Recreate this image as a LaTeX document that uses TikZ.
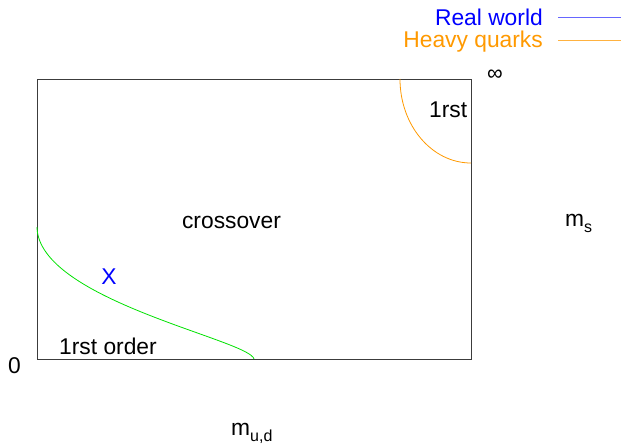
\documentclass[tikz,border=0pt]{standalone}
\usepackage{fontspec}
\setmainfont{Liberation Sans}
\definecolor{boxgray}{RGB}{60,60,60}
\definecolor{realblue}{RGB}{0,0,255}
\definecolor{heavyorange}{RGB}{255,153,0}
\definecolor{curvegreen}{RGB}{0,225,0}
\tikzset{
  lbl/.style={inner sep=0pt, anchor=base, font=\fontsize{22.8}{27}\selectfont},
  lblw/.style={lbl, anchor=base west},
  lble/.style={lbl, anchor=base east},
}
\begin{document}
\begin{tikzpicture}[x=1pt,y=-1pt]
\useasboundingbox (0,0) rectangle (621,445);
% box
\draw[boxgray, line width=0.9pt] (37,79) rectangle (471,359);
% curves
\coordinate (g1) at (37,227);
\coordinate (g2) at (254,359);
\draw[curvegreen, line width=0.8pt] (g1) .. controls (38,300) and (250,340) .. (g2);
\coordinate (o1) at (400,79);
\coordinate (o2) at (471,163);
\draw[heavyorange, line width=0.8pt] (o1) .. controls (400,125.4) and (431.8,163) .. (o2);
% legend
\node[lble, text=realblue] (rw) at (543,25) {Real world};
\node[lble, text=heavyorange] (hq) at (543,47) {Heavy quarks};
\coordinate (rwa) at (558,17);
\coordinate (rwb) at (621,17);
\coordinate (hqa) at (558,40);
\coordinate (hqb) at (621,40);
\draw[realblue!60, line width=0.8pt] (rwa) -- (rwb);
\draw[heavyorange!75, line width=0.8pt] (hqa) -- (hqb);
% labels
\node[lbl, font=\fontsize{22}{26}\selectfont] (inf) at (495,80) {∞};
\node[lblw] (first) at (429,117) {1rst};
\node[lbl] (cross) at (231.5,228) {crossover};
\node[lblw] (ms) at (565,226) {m\raisebox{-6pt}{\fontsize{16}{18}\selectfont s}};
\node[lbl, text=realblue] (x) at (109,284) {X};
\node[lblw] (fo) at (59,354) {1rst order};
\node[lblw] (zero) at (8,373) {0};
\node[lblw] (mud) at (231,435) {m\raisebox{-6pt}{\fontsize{16}{18}\selectfont u,d}};
\end{tikzpicture}
\end{document}
